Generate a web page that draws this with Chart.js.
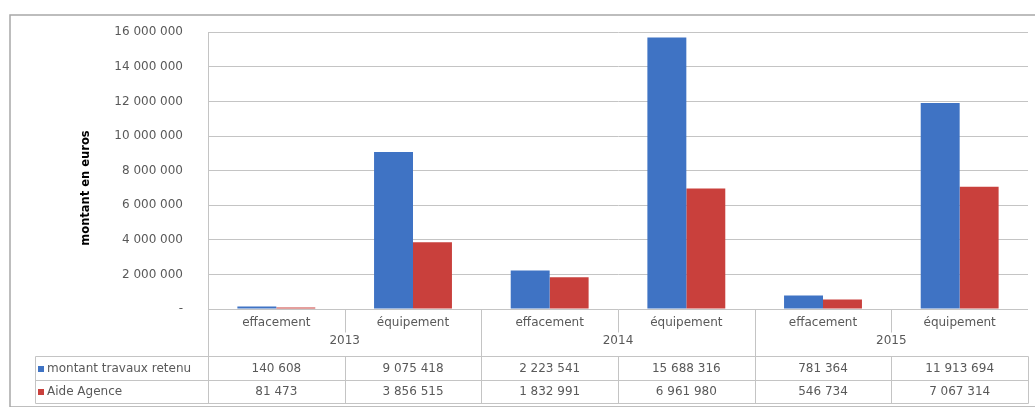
<!DOCTYPE html>
<html>
<head>
<meta charset="utf-8">
<script src="https://cdn.jsdelivr.net/npm/chart.js@4.4.1/dist/chart.umd.min.js"></script>
<style>
    html, body { margin: 0; padding: 0; background: #fff; }
    #wrap { width: 1035px; height: 407px; position: relative; }
</style>
</head>
<body>
<div id="wrap"><canvas id="chart" width="1035" height="407"></canvas></div>
<script>
const categories = ["effacement", "équipement", "effacement", "équipement", "effacement", "équipement"];
const years = ["2013", "2014", "2015"];
const montantTravaux = [140608, 9075418, 2223541, 15688316, 781364, 11913694];
const aideAgence = [81473, 3856515, 1832991, 6961980, 546734, 7067314];
const seriesNames = ["montant travaux retenu", "Aide Agence"];
const yTitle = "montant en euros";

const BLUE = "#3f73c4";
const RED = "#c9403c";
const LINE = "#c4c4c4";
const TXT = "#595959";
const FONT = "DejaVu Sans";

const fmt = (n) => String(n).replace(/\B(?=(\d{3})+(?!\d))/g, " ");

// cadre + tableau de données sous l'axe
const tablePlugin = {
    id: "dataTable",
    afterDraw(chart) {
        const ctx = chart.ctx;
        const area = chart.chartArea;
        const x = chart.scales.x;
        const w = (area.right - area.left) / categories.length;
        const yCat = 323, yYear = 341, rowTop = 356, rowMid = 380, rowBot = 403, tableLeft = 35;
        const edge = (i) => x.getPixelForValue(i) - w / 2;

        ctx.save();
        ctx.strokeStyle = "#a8a8a8";
        ctx.lineWidth = 1.5;
        ctx.strokeRect(10, 15, 1040, 392);

        ctx.strokeStyle = LINE;
        ctx.lineWidth = 1;
        const line = (x1, y1, x2, y2) => {
            ctx.beginPath();
            ctx.moveTo(Math.round(x1) + 0.5, Math.round(y1) + 0.5);
            ctx.lineTo(Math.round(x2) + 0.5, Math.round(y2) + 0.5);
            ctx.stroke();
        };
        line(tableLeft, rowTop, area.right, rowTop);
        line(tableLeft, rowMid, area.right, rowMid);
        line(tableLeft, rowBot, area.right, rowBot);
        line(tableLeft, rowTop, tableLeft, rowBot);
        line(area.right, rowTop, area.right, rowBot);
        for (let i = 0; i < categories.length; i++) {
            const ex = edge(i);
            if (i % 2 === 0) {
                line(ex, area.bottom, ex, rowBot);
            } else {
                line(ex, area.bottom, ex, 332);
                line(ex, rowTop, ex, rowBot);
            }
        }

        ctx.fillStyle = TXT;
        ctx.font = `12px "${FONT}"`;
        ctx.textAlign = "center";
        ctx.textBaseline = "middle";
        categories.forEach((c, i) => {
            const cx = x.getPixelForValue(i);
            ctx.fillText(c, cx, yCat);
            ctx.fillText(fmt(montantTravaux[i]), cx, 369);
            ctx.fillText(fmt(aideAgence[i]), cx, 392);
        });
        years.forEach((yr, j) => {
            ctx.fillText(yr, edge(j * 2 + 1), yYear);
        });

        ctx.textAlign = "left";
        [BLUE, RED].forEach((col, k) => {
            const cy = k === 0 ? 369 : 392;
            ctx.fillStyle = col;
            ctx.fillRect(38, cy - 3, 6, 6);
            ctx.fillStyle = TXT;
            ctx.fillText(seriesNames[k], 47, cy);
        });

        // titre de l'axe vertical
        ctx.translate(86, 188);
        ctx.rotate(-Math.PI / 2);
        ctx.textAlign = "center";
        ctx.fillStyle = "#000";
        ctx.font = `bold 11.5px "${FONT}"`;
        ctx.fillText(yTitle, 0, 0);
        ctx.restore();
    }
};

const ctx = document.getElementById("chart").getContext("2d");
new Chart(ctx, {
    type: "bar",
    data: {
        labels: categories,
        datasets: [
            { label: seriesNames[0], data: montantTravaux, backgroundColor: BLUE },
            { label: seriesNames[1], data: aideAgence, backgroundColor: RED }
        ]
    },
    options: {
        responsive: false,
        animation: false,
        devicePixelRatio: 1,
        layout: { padding: { left: 0, top: 31, right: 7, bottom: 98 } },
        datasets: { bar: { categoryPercentage: 0.57, barPercentage: 1.0 } },
        scales: {
            x: { display: false },
            y: {
                min: 0,
                max: 16000000,
                afterFit: (scale) => { scale.width = 208; },
                border: { display: true, color: LINE },
                grid: { color: LINE, drawTicks: false },
                ticks: {
                    stepSize: 2000000,
                    padding: 25,
                    color: TXT,
                    font: { family: FONT, size: 12 },
                    callback: (v) => v === 0 ? "-" : fmt(v)
                }
            }
        },
        plugins: {
            legend: { display: false },
            tooltip: { enabled: false }
        }
    },
    plugins: [tablePlugin]
});
</script>
</body>
</html>
